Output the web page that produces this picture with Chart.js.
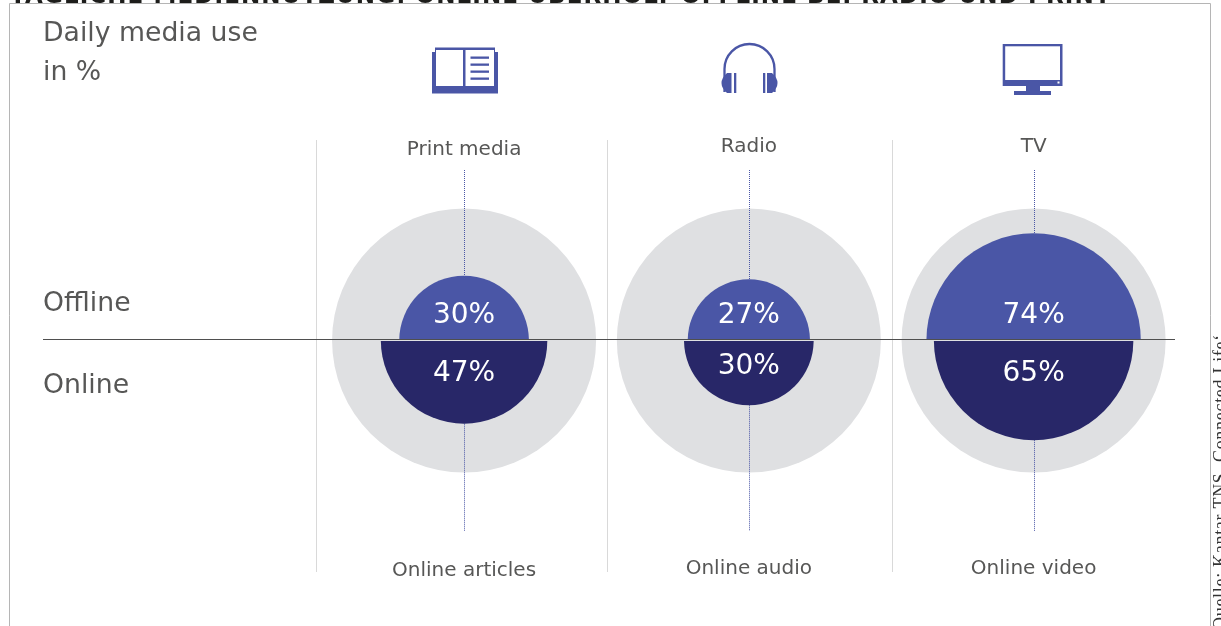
<!DOCTYPE html>
<html>
<head>
<meta charset="utf-8">
<title>Daily media use</title>
<script src="https://cdn.jsdelivr.net/npm/chart.js@4"></script>
<style>
    html, body { margin: 0; padding: 0; background: #fff; overflow: hidden; }
    canvas { display: block; }
</style>
</head>
<body>
<canvas id="mediaChart" width="1221" height="626"></canvas>
<script>
const offlineCategories = ['Print media', 'Radio', 'TV'];
const onlineCategories = ['Online articles', 'Online audio', 'Online video'];
const offlineValues = [30, 27, 74];
const onlineValues = [47, 30, 65];
const separatorTicks = [-0.52, 0.505, 1.505];

const BLUE = '#4A56A6';
const NAVY = '#282768';
const RING = '#DFE0E2';
const TEXT = '#575756';
const FONT = '"DejaVu Sans", sans-serif';
const RING_RADIUS = 132;

// half discs grow with the percentage, slower than linear
function radiusFor(value) {
    return 9.75 * Math.pow(value, 0.557);
}

function bubbles(values) {
    return values.map((v, i) => ({ x: i, y: 0, r: radiusFor(v) }));
}

function text(ctx, str, x, y, size, color, align) {
    ctx.font = size + 'px ' + FONT;
    ctx.fillStyle = color;
    ctx.textAlign = align || 'center';
    ctx.fillText(str, x, y);
}

function drawBook(ctx) {
    ctx.fillStyle = BLUE;
    ctx.fillRect(435, 47.5, 60, 10);
    ctx.fillRect(432, 52, 66, 41.5);
    ctx.fillStyle = '#fff';
    ctx.fillRect(436, 50, 27, 36);
    ctx.fillRect(465.5, 50, 28.5, 36);
    ctx.fillStyle = BLUE;
    [56.5, 63.5, 70.5, 77.5].forEach(y => ctx.fillRect(470.5, y, 18.5, 2.3));
}

function drawHeadphones(ctx) {
    ctx.strokeStyle = BLUE;
    ctx.lineWidth = 2.3;
    ctx.beginPath();
    ctx.moveTo(724.5, 92);
    ctx.lineTo(724.5, 69);
    ctx.arc(749.5, 69, 25, Math.PI, 0);
    ctx.lineTo(774.5, 92);
    ctx.stroke();
    ctx.fillStyle = BLUE;
    // ear cups, flat towards the middle
    ctx.beginPath();
    ctx.moveTo(731.5, 73);
    ctx.lineTo(727, 73);
    ctx.quadraticCurveTo(716, 83, 727, 93);
    ctx.lineTo(731.5, 93);
    ctx.fill();
    ctx.beginPath();
    ctx.moveTo(767, 73);
    ctx.lineTo(772, 73);
    ctx.quadraticCurveTo(783, 83, 772, 93);
    ctx.lineTo(767, 93);
    ctx.fill();
    ctx.fillRect(734, 73, 2.3, 20);
    ctx.fillRect(763, 73, 2.3, 20);
}

function drawScreen(ctx) {
    ctx.fillStyle = BLUE;
    ctx.fillRect(1002.7, 44, 59.8, 42);
    ctx.fillRect(1026, 86, 14, 6);
    ctx.fillRect(1014, 91, 37, 4);
    ctx.fillStyle = '#fff';
    ctx.fillRect(1005.2, 46.3, 54.8, 33.7);
    ctx.fillRect(1057.5, 81.5, 2, 2);
}

const layoutPlugin = {
    id: 'layoutPlugin',
    // frame, cut-off heading, text and icons sit behind the marks
    beforeDatasetsDraw(chart) {
        const ctx = chart.ctx;
        const xScale = chart.scales.x;
        ctx.save();

        ctx.font = 'bold 23px ' + FONT;
        ctx.letterSpacing = '1.1px';
        ctx.fillStyle = '#1d1d1b';
        ctx.textAlign = 'left';
        ctx.fillText('TÄGLICHE MEDIENNUTZUNG: ONLINE ÜBERHOLT OFFLINE BEI RADIO UND PRINT', 10, 3);
        ctx.letterSpacing = '0px';

        ctx.strokeStyle = '#b5b5b5';
        ctx.lineWidth = 1;
        ctx.beginPath();
        ctx.moveTo(9.5, 630);
        ctx.lineTo(9.5, 3.5);
        ctx.lineTo(1210.5, 3.5);
        ctx.lineTo(1210.5, 630);
        ctx.stroke();

        text(ctx, 'Daily media use', 43, 41, 26.7, TEXT, 'left');
        text(ctx, 'in %', 43, 79.5, 26.7, TEXT, 'left');
        text(ctx, 'Offline', 43, 310.5, 26.7, TEXT, 'left');
        text(ctx, 'Online', 43, 393, 26.7, TEXT, 'left');

        const topLabelY = [155, 152, 152];
        const bottomLabelY = [575.5, 573.5, 573.5];
        offlineCategories.forEach((c, i) => {
            text(ctx, c, xScale.getPixelForValue(i), topLabelY[i], 20, TEXT);
        });
        onlineCategories.forEach((c, i) => {
            text(ctx, c, xScale.getPixelForValue(i), bottomLabelY[i], 20, TEXT);
        });

        drawBook(ctx);
        drawHeadphones(ctx);
        drawScreen(ctx);

        // source line runs up the right edge
        ctx.translate(1225.5, 630);
        ctx.rotate(-Math.PI / 2);
        ctx.font = '18px "Liberation Serif", serif';
        ctx.letterSpacing = '0.7px';
        ctx.fillStyle = '#333';
        ctx.textAlign = 'left';
        ctx.fillText('Quelle: Kantar TNS, Connected Life‘', 0, 0);
        ctx.restore();
    },
    beforeDatasetDraw(chart, args) {
        const half = args.meta.controller.getDataset().half;
        if (!half) return;
        // keep only the part of the disc on its own side of the zero line
        const ctx = chart.ctx;
        const zero = chart.scales.y.getPixelForValue(0);
        ctx.save();
        ctx.beginPath();
        if (half === 'up') ctx.rect(0, 0, chart.width, zero - 0.5);
        else ctx.rect(0, zero + 0.5, chart.width, chart.height);
        ctx.clip();
    },
    afterDatasetDraw(chart, args) {
        const ctx = chart.ctx;
        if (args.meta.controller.getDataset().half) {
            ctx.restore();
            return;
        }
        // dotted leaders run from the captions to the half discs
        const zero = chart.scales.y.getPixelForValue(0);
        ctx.save();
        ctx.strokeStyle = BLUE;
        ctx.lineWidth = 1;
        ctx.setLineDash([1, 1]);
        offlineValues.forEach((v, i) => {
            const x = Math.round(chart.scales.x.getPixelForValue(i)) + 0.5;
            ctx.beginPath();
            ctx.moveTo(x, 170);
            ctx.lineTo(x, zero - radiusFor(v));
            ctx.moveTo(x, zero + radiusFor(onlineValues[i]));
            ctx.lineTo(x, 531);
            ctx.stroke();
        });
        ctx.restore();
    },
    afterDatasetsDraw(chart) {
        const ctx = chart.ctx;
        const xScale = chart.scales.x;
        const zero = chart.scales.y.getPixelForValue(0);
        ctx.save();
        ctx.strokeStyle = '#4f4f4f';
        ctx.lineWidth = 1;
        ctx.beginPath();
        ctx.moveTo(43, Math.floor(zero) - 0.5);
        ctx.lineTo(1175, Math.floor(zero) - 0.5);
        ctx.stroke();

        const onlineLabelY = [381, 374, 381];
        offlineValues.forEach((v, i) => {
            text(ctx, v + '%', xScale.getPixelForValue(i), 323, 28, '#fff');
        });
        onlineValues.forEach((v, i) => {
            text(ctx, v + '%', xScale.getPixelForValue(i), onlineLabelY[i], 28, '#fff');
        });
        ctx.restore();
    }
};

new Chart(document.getElementById('mediaChart'), {
    type: 'bubble',
    data: {
        datasets: [
            {
                label: 'Ring',
                data: offlineValues.map((v, i) => ({ x: i, y: 0, r: RING_RADIUS })),
                backgroundColor: RING,
                borderWidth: 0,
                clip: false,
                order: 3
            },
            {
                label: 'Offline',
                half: 'up',
                data: bubbles(offlineValues),
                backgroundColor: BLUE,
                borderWidth: 0,
                clip: false,
                order: 2
            },
            {
                label: 'Online',
                half: 'down',
                data: bubbles(onlineValues),
                backgroundColor: NAVY,
                borderWidth: 0,
                clip: false,
                order: 1
            }
        ]
    },
    options: {
        responsive: false,
        animation: false,
        events: [],
        layout: { autoPadding: false, padding: { left: 316, right: 45, top: 140, bottom: 54 } },
        plugins: {
            legend: { display: false },
            tooltip: { enabled: false }
        },
        scales: {
            x: {
                type: 'linear',
                min: -0.52,
                max: 2.5,
                afterBuildTicks: axis => {
                    axis.ticks = separatorTicks.map(value => ({ value }));
                },
                ticks: { display: false },
                border: { display: false },
                grid: { color: '#d9d9d9', drawTicks: false }
            },
            y: {
                type: 'linear',
                display: false,
                min: -1.155,
                max: 1
            }
        }
    },
    plugins: [layoutPlugin]
});
</script>
</body>
</html>
